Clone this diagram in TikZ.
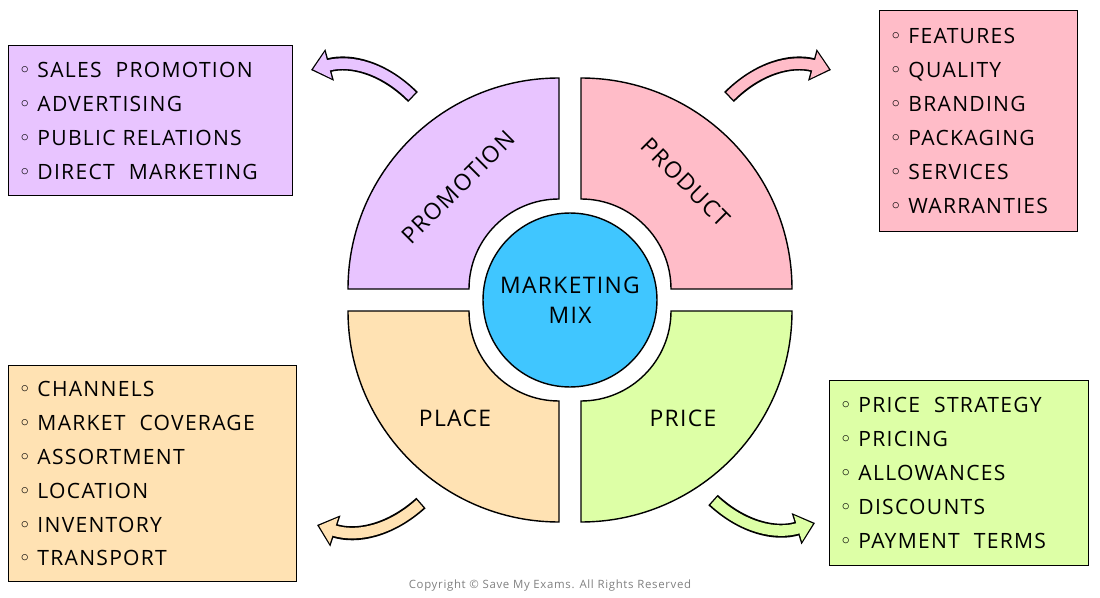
\documentclass[tikz,border=0pt]{standalone}
\usepackage{fontspec}
\setmainfont[LetterSpace=6]{Open Sans}
\newfontfamily\bulletfont{DejaVu Sans}
\usetikzlibrary{arrows.meta,positioning}
\definecolor{promoC}{HTML}{E8C4FF}
\definecolor{prodC}{HTML}{FFBCC8}
\definecolor{placeC}{HTML}{FFE2B3}
\definecolor{priceC}{HTML}{DDFFA6}
\definecolor{mixC}{HTML}{40C6FF}
\newcommand{\itm}{{\bulletfont\char"25E6}\hspace{0.3em}}
\tikzset{
  listbox/.style={draw, line width=0.8pt, anchor=north west, align=left,
    inner sep=0.2cm, font=\fontsize{12}{19.3}\selectfont},
  quadlabel/.style={font=\fontsize{13}{15}\selectfont},
  bigarrow/.style={line width=6pt, -{Triangle[length=9pt,width=15pt]}},
}
\begin{document}
\begin{tikzpicture}[x=0.02cm, y=-0.02cm]
    \useasboundingbox (0,0) rectangle (1100,598);
    % Quadrants
    \foreach \cx/\cy/\a/\col in {559/289/180/promoC, 581/289/270/prodC, 559/311/90/placeC, 581/311/0/priceC}{
      \filldraw[fill=\col, line width=0.8pt] (\cx,\cy) ++(\a:211) arc[start angle=\a, end angle=\a+90, radius=211]
        -- ++(\a+90+180:121) arc[start angle=\a+90, end angle=\a, radius=90] -- cycle;
    }
    \node[circle, draw, line width=0.8pt, fill=mixC, minimum size=3.48cm, align=center,
      font=\fontsize{13}{17}\selectfont] (mix) at (570,300) {MARKETING\\MIX};
    \node[quadlabel, rotate=45] (promotion) at (458,187) {PROMOTION};
    \node[quadlabel, rotate=-45] (product) at (686,182) {PRODUCT};
    \node[quadlabel] (place) at (455,418) {PLACE};
    \node[quadlabel] (price) at (683,418) {PRICE};
    % Boxes
    \node[listbox, fill=promoC, text width=5.28cm, minimum height=3.0cm] (promobox) at (8,45)
      {\itm SALES\ \ PROMOTION\\\itm ADVERTISING\\\itm PUBLIC RELATIONS\\\itm DIRECT\ \ MARKETING};
    \node[listbox, fill=prodC, text width=3.56cm, minimum height=4.42cm] (prodbox) at (879,10)
      {\itm FEATURES\\\itm QUALITY\\\itm BRANDING\\\itm PACKAGING\\\itm SERVICES\\\itm WARRANTIES};
    \node[listbox, fill=placeC, text width=5.36cm, minimum height=4.32cm] (placebox) at (8,365)
      {\itm CHANNELS\\\itm MARKET\ \ COVERAGE\\\itm ASSORTMENT\\\itm LOCATION\\\itm INVENTORY\\\itm TRANSPORT};
    \node[listbox, fill=priceC, text width=4.78cm, minimum height=3.7cm] (pricebox) at (829,380)
      {\itm PRICE\ \ STRATEGY\\\itm PRICING\\\itm ALLOWANCES\\\itm DISCOUNTS\\\itm PAYMENT\ \ TERMS};
    % Arrows
    \coordinate (a1s) at (413,97); \coordinate (a1e) at (311,70);
    \coordinate (a2s) at (729,97); \coordinate (a2e) at (831,70);
    \coordinate (a3s) at (421,503); \coordinate (a3e) at (317,525);
    \coordinate (a4s) at (713,500); \coordinate (a4e) at (815,523);
    \foreach \s/\e/\b/\col in {a1s/a1e/30/promoC, a2s/a2e/-30/prodC, a3s/a3e/-30/placeC, a4s/a4e/30/priceC}{
      \draw[bigarrow, line width=8pt, -{Triangle[length=11pt,width=18pt]}] (\s) to[bend right=\b] (\e);
      \draw[bigarrow, \col, shorten >=1.2pt, shorten <=0.8pt] (\s) to[bend right=\b] (\e);
    }
    \node[text=gray, font=\fontsize{6.5}{8}\selectfont] (copy) at (550,586) {Copyright © Save My Exams. All Rights Reserved};
\end{tikzpicture}
\end{document}
